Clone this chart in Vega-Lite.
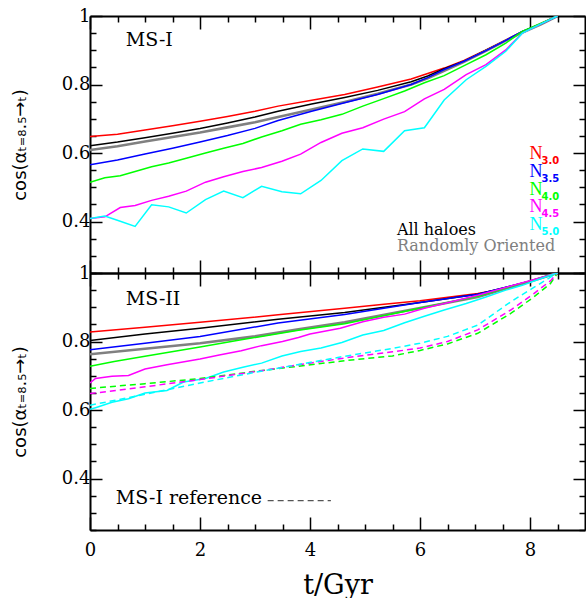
{
  "$schema": "https://vega.github.io/schema/vega-lite/v6.json",
  "padding": {"left": 11, "top": 7, "right": 0, "bottom": 0},
  "config": {
    "view": {"stroke": null},
    "axis": {"domainColor": "#000", "domainWidth": 2, "tickColor": "#000", "tickWidth": 1.5, "labelFont": "DejaVu Serif", "labelFontSize": 18, "labelColor": "#000", "titleFont": "DejaVu Sans", "titleFontWeight": "normal", "titleColor": "#000", "grid": false, "labelOverlap": false, "labelFlush": false},
    "text": {"font": "DejaVu Serif"}
  },
  "datasets": {
    "top": [
      {"s":"N3.0","t":0,"v":0.648},{"s":"N3.0","t":0.5,"v":0.655},{"s":"N3.0","t":1,"v":0.667},{"s":"N3.0","t":1.5,"v":0.68},{"s":"N3.0","t":2,"v":0.693},{"s":"N3.0","t":2.5,"v":0.707},{"s":"N3.0","t":3,"v":0.722},{"s":"N3.0","t":3.42,"v":0.737},{"s":"N3.0","t":4.03,"v":0.754},{"s":"N3.0","t":4.63,"v":0.771},{"s":"N3.0","t":5.23,"v":0.793},{"s":"N3.0","t":5.84,"v":0.816},{"s":"N3.0","t":6.14,"v":0.832},{"s":"N3.0","t":6.44,"v":0.848},{"s":"N3.0","t":6.8,"v":0.87},{"s":"N3.0","t":7.2,"v":0.901},{"s":"N3.0","t":7.56,"v":0.93},{"s":"N3.0","t":7.86,"v":0.954},{"s":"N3.0","t":8.2,"v":0.977},{"s":"N3.0","t":8.5,"v":1},
      {"s":"All","t":0,"v":0.621},{"s":"All","t":0.5,"v":0.632},{"s":"All","t":1,"v":0.645},{"s":"All","t":1.5,"v":0.658},{"s":"All","t":2,"v":0.672},{"s":"All","t":2.5,"v":0.688},{"s":"All","t":3,"v":0.705},{"s":"All","t":3.42,"v":0.722},{"s":"All","t":4.03,"v":0.743},{"s":"All","t":4.63,"v":0.762},{"s":"All","t":5.23,"v":0.783},{"s":"All","t":5.84,"v":0.808},{"s":"All","t":6.14,"v":0.825},{"s":"All","t":6.44,"v":0.846},{"s":"All","t":6.8,"v":0.868},{"s":"All","t":7.2,"v":0.9},{"s":"All","t":7.56,"v":0.929},{"s":"All","t":7.86,"v":0.954},{"s":"All","t":8.2,"v":0.977},{"s":"All","t":8.5,"v":1},
      {"s":"Random","t":0,"v":0.609},{"s":"Random","t":0.5,"v":0.62},{"s":"Random","t":1,"v":0.634},{"s":"Random","t":1.5,"v":0.647},{"s":"Random","t":2,"v":0.66},{"s":"Random","t":2.5,"v":0.675},{"s":"Random","t":3,"v":0.69},{"s":"Random","t":3.42,"v":0.705},{"s":"Random","t":4.03,"v":0.727},{"s":"Random","t":4.63,"v":0.749},{"s":"Random","t":5.23,"v":0.773},{"s":"Random","t":5.84,"v":0.8},{"s":"Random","t":6.14,"v":0.818},{"s":"Random","t":6.44,"v":0.84},{"s":"Random","t":6.8,"v":0.866},{"s":"Random","t":7.2,"v":0.898},{"s":"Random","t":7.56,"v":0.928},{"s":"Random","t":7.86,"v":0.952},{"s":"Random","t":8.2,"v":0.976},{"s":"Random","t":8.5,"v":1},
      {"s":"N3.5","t":0,"v":0.566},{"s":"N3.5","t":0.5,"v":0.58},{"s":"N3.5","t":1,"v":0.597},{"s":"N3.5","t":1.5,"v":0.614},{"s":"N3.5","t":2,"v":0.632},{"s":"N3.5","t":2.5,"v":0.651},{"s":"N3.5","t":3,"v":0.672},{"s":"N3.5","t":3.42,"v":0.695},{"s":"N3.5","t":4.03,"v":0.722},{"s":"N3.5","t":4.63,"v":0.747},{"s":"N3.5","t":5.23,"v":0.771},{"s":"N3.5","t":5.84,"v":0.8},{"s":"N3.5","t":6.14,"v":0.82},{"s":"N3.5","t":6.44,"v":0.844},{"s":"N3.5","t":6.8,"v":0.868},{"s":"N3.5","t":7.2,"v":0.899},{"s":"N3.5","t":7.56,"v":0.929},{"s":"N3.5","t":7.86,"v":0.955},{"s":"N3.5","t":8.2,"v":0.977},{"s":"N3.5","t":8.5,"v":1},
      {"s":"N4.0","t":0,"v":0.515},{"s":"N4.0","t":0.27,"v":0.528},{"s":"N4.0","t":0.55,"v":0.534},{"s":"N4.0","t":0.82,"v":0.546},{"s":"N4.0","t":1.12,"v":0.56},{"s":"N4.0","t":1.43,"v":0.571},{"s":"N4.0","t":1.75,"v":0.585},{"s":"N4.0","t":2.1,"v":0.6},{"s":"N4.0","t":2.43,"v":0.614},{"s":"N4.0","t":2.78,"v":0.628},{"s":"N4.0","t":3.12,"v":0.647},{"s":"N4.0","t":3.49,"v":0.665},{"s":"N4.0","t":3.83,"v":0.684},{"s":"N4.0","t":4.2,"v":0.697},{"s":"N4.0","t":4.58,"v":0.713},{"s":"N4.0","t":4.96,"v":0.737},{"s":"N4.0","t":5.34,"v":0.759},{"s":"N4.0","t":5.72,"v":0.781},{"s":"N4.0","t":6.08,"v":0.805},{"s":"N4.0","t":6.44,"v":0.826},{"s":"N4.0","t":6.84,"v":0.858},{"s":"N4.0","t":7.2,"v":0.887},{"s":"N4.0","t":7.56,"v":0.921},{"s":"N4.0","t":7.86,"v":0.955},{"s":"N4.0","t":8.2,"v":0.979},{"s":"N4.0","t":8.5,"v":1},
      {"s":"N4.5","t":0,"v":0.409},{"s":"N4.5","t":0.27,"v":0.414},{"s":"N4.5","t":0.55,"v":0.441},{"s":"N4.5","t":0.82,"v":0.447},{"s":"N4.5","t":1.12,"v":0.462},{"s":"N4.5","t":1.43,"v":0.474},{"s":"N4.5","t":1.75,"v":0.489},{"s":"N4.5","t":2.1,"v":0.515},{"s":"N4.5","t":2.43,"v":0.531},{"s":"N4.5","t":2.78,"v":0.546},{"s":"N4.5","t":3.12,"v":0.558},{"s":"N4.5","t":3.49,"v":0.576},{"s":"N4.5","t":3.83,"v":0.597},{"s":"N4.5","t":4.2,"v":0.631},{"s":"N4.5","t":4.58,"v":0.658},{"s":"N4.5","t":4.96,"v":0.674},{"s":"N4.5","t":5.34,"v":0.699},{"s":"N4.5","t":5.72,"v":0.721},{"s":"N4.5","t":6.08,"v":0.758},{"s":"N4.5","t":6.44,"v":0.786},{"s":"N4.5","t":6.84,"v":0.829},{"s":"N4.5","t":7.2,"v":0.858},{"s":"N4.5","t":7.56,"v":0.901},{"s":"N4.5","t":7.86,"v":0.95},{"s":"N4.5","t":8.2,"v":0.977},{"s":"N4.5","t":8.5,"v":1},
      {"s":"N5.0","t":0,"v":0.409},{"s":"N5.0","t":0.27,"v":0.416},{"s":"N5.0","t":0.55,"v":0.401},{"s":"N5.0","t":0.82,"v":0.386},{"s":"N5.0","t":1.12,"v":0.449},{"s":"N5.0","t":1.43,"v":0.443},{"s":"N5.0","t":1.75,"v":0.425},{"s":"N5.0","t":2.1,"v":0.464},{"s":"N5.0","t":2.43,"v":0.489},{"s":"N5.0","t":2.78,"v":0.47},{"s":"N5.0","t":3.12,"v":0.503},{"s":"N5.0","t":3.49,"v":0.487},{"s":"N5.0","t":3.83,"v":0.481},{"s":"N5.0","t":4.2,"v":0.52},{"s":"N5.0","t":4.58,"v":0.578},{"s":"N5.0","t":4.96,"v":0.612},{"s":"N5.0","t":5.34,"v":0.605},{"s":"N5.0","t":5.72,"v":0.665},{"s":"N5.0","t":6.08,"v":0.674},{"s":"N5.0","t":6.44,"v":0.755},{"s":"N5.0","t":6.84,"v":0.814},{"s":"N5.0","t":7.2,"v":0.853},{"s":"N5.0","t":7.56,"v":0.897},{"s":"N5.0","t":7.86,"v":0.95},{"s":"N5.0","t":8.2,"v":0.977},{"s":"N5.0","t":8.5,"v":1}
    ],
    "bot": [
      {"s":"N3.0","t":0,"v":0.828},{"s":"N3.0","t":1,"v":0.842},{"s":"N3.0","t":2,"v":0.856},{"s":"N3.0","t":3.42,"v":0.878},{"s":"N3.0","t":4.63,"v":0.897},{"s":"N3.0","t":5.3,"v":0.908},{"s":"N3.0","t":6,"v":0.919},{"s":"N3.0","t":7.05,"v":0.94},{"s":"N3.0","t":7.5,"v":0.953},{"s":"N3.0","t":8,"v":0.975},{"s":"N3.0","t":8.5,"v":1},
      {"s":"All","t":0,"v":0.803},{"s":"All","t":1,"v":0.822},{"s":"All","t":2,"v":0.839},{"s":"All","t":3.42,"v":0.865},{"s":"All","t":4.63,"v":0.885},{"s":"All","t":6,"v":0.914},{"s":"All","t":7.05,"v":0.938},{"s":"All","t":8,"v":0.976},{"s":"All","t":8.5,"v":1},
      {"s":"N3.5","t":0,"v":0.776},{"s":"N3.5","t":1,"v":0.795},{"s":"N3.5","t":2,"v":0.815},{"s":"N3.5","t":3.42,"v":0.854},{"s":"N3.5","t":4.63,"v":0.879},{"s":"N3.5","t":6,"v":0.914},{"s":"N3.5","t":7.05,"v":0.938},{"s":"N3.5","t":8,"v":0.976},{"s":"N3.5","t":8.5,"v":1},
      {"s":"Random","t":0,"v":0.763},{"s":"Random","t":1,"v":0.779},{"s":"Random","t":2,"v":0.795},{"s":"Random","t":3,"v":0.815},{"s":"Random","t":3.79,"v":0.836},{"s":"Random","t":4.63,"v":0.856},{"s":"Random","t":6,"v":0.898},{"s":"Random","t":7.05,"v":0.93},{"s":"Random","t":8,"v":0.975},{"s":"Random","t":8.5,"v":1},
      {"s":"N4.0","t":0,"v":0.728},{"s":"N4.0","t":0.44,"v":0.742},{"s":"N4.0","t":1,"v":0.757},{"s":"N4.0","t":2,"v":0.784},{"s":"N4.0","t":2.75,"v":0.805},{"s":"N4.0","t":3.79,"v":0.833},{"s":"N4.0","t":4.63,"v":0.852},{"s":"N4.0","t":6,"v":0.897},{"s":"N4.0","t":7.05,"v":0.932},{"s":"N4.0","t":8,"v":0.977},{"s":"N4.0","t":8.5,"v":1},
      {"s":"N4.5","t":0,"v":0.679},{"s":"N4.5","t":0.1,"v":0.692},{"s":"N4.5","t":0.4,"v":0.699},{"s":"N4.5","t":0.7,"v":0.701},{"s":"N4.5","t":1,"v":0.72},{"s":"N4.5","t":1.4,"v":0.732},{"s":"N4.5","t":2,"v":0.749},{"s":"N4.5","t":2.35,"v":0.761},{"s":"N4.5","t":2.75,"v":0.773},{"s":"N4.5","t":3.12,"v":0.788},{"s":"N4.5","t":3.5,"v":0.8},{"s":"N4.5","t":3.79,"v":0.812},{"s":"N4.5","t":4,"v":0.822},{"s":"N4.5","t":4.55,"v":0.839},{"s":"N4.5","t":4.96,"v":0.858},{"s":"N4.5","t":5.34,"v":0.871},{"s":"N4.5","t":5.72,"v":0.88},{"s":"N4.5","t":6.08,"v":0.897},{"s":"N4.5","t":6.44,"v":0.911},{"s":"N4.5","t":7.05,"v":0.935},{"s":"N4.5","t":7.65,"v":0.962},{"s":"N4.5","t":8.5,"v":1},
      {"s":"N5.0","t":0,"v":0.602},{"s":"N5.0","t":0.1,"v":0.607},{"s":"N5.0","t":0.4,"v":0.623},{"s":"N5.0","t":0.7,"v":0.633},{"s":"N5.0","t":1,"v":0.65},{"s":"N5.0","t":1.4,"v":0.657},{"s":"N5.0","t":1.7,"v":0.682},{"s":"N5.0","t":2.1,"v":0.692},{"s":"N5.0","t":2.43,"v":0.711},{"s":"N5.0","t":2.78,"v":0.725},{"s":"N5.0","t":3.12,"v":0.737},{"s":"N5.0","t":3.49,"v":0.758},{"s":"N5.0","t":3.83,"v":0.771},{"s":"N5.0","t":4.2,"v":0.781},{"s":"N5.0","t":4.58,"v":0.797},{"s":"N5.0","t":4.96,"v":0.819},{"s":"N5.0","t":5.34,"v":0.832},{"s":"N5.0","t":5.72,"v":0.855},{"s":"N5.0","t":6.08,"v":0.874},{"s":"N5.0","t":6.44,"v":0.892},{"s":"N5.0","t":6.84,"v":0.911},{"s":"N5.0","t":7.2,"v":0.93},{"s":"N5.0","t":7.56,"v":0.95},{"s":"N5.0","t":7.86,"v":0.964},{"s":"N5.0","t":8.2,"v":0.984},{"s":"N5.0","t":8.5,"v":1}
    ],
    "botref": [
      {"s":"N4.0","t":0,"v":0.663},{"s":"N4.0","t":1,"v":0.677},{"s":"N4.0","t":2,"v":0.692},{"s":"N4.0","t":3,"v":0.713},{"s":"N4.0","t":3.79,"v":0.728},{"s":"N4.0","t":4.63,"v":0.744},{"s":"N4.0","t":5.5,"v":0.758},{"s":"N4.0","t":6,"v":0.774},{"s":"N4.0","t":6.5,"v":0.793},{"s":"N4.0","t":7.05,"v":0.824},{"s":"N4.0","t":7.65,"v":0.882},{"s":"N4.0","t":8.07,"v":0.93},{"s":"N4.0","t":8.37,"v":0.969},{"s":"N4.0","t":8.5,"v":1},
      {"s":"N4.5","t":0,"v":0.648},{"s":"N4.5","t":1,"v":0.668},{"s":"N4.5","t":2,"v":0.689},{"s":"N4.5","t":3,"v":0.712},{"s":"N4.5","t":3.79,"v":0.732},{"s":"N4.5","t":4.63,"v":0.752},{"s":"N4.5","t":5.5,"v":0.77},{"s":"N4.5","t":6,"v":0.781},{"s":"N4.5","t":6.5,"v":0.8},{"s":"N4.5","t":7.05,"v":0.834},{"s":"N4.5","t":7.65,"v":0.892},{"s":"N4.5","t":8.07,"v":0.94},{"s":"N4.5","t":8.37,"v":0.977},{"s":"N4.5","t":8.5,"v":1},
      {"s":"N5.0","t":0,"v":0.614},{"s":"N5.0","t":0.5,"v":0.63},{"s":"N5.0","t":1,"v":0.646},{"s":"N5.0","t":2,"v":0.679},{"s":"N5.0","t":3,"v":0.71},{"s":"N5.0","t":3.79,"v":0.733},{"s":"N5.0","t":4.63,"v":0.757},{"s":"N5.0","t":5.5,"v":0.78},{"s":"N5.0","t":6,"v":0.795},{"s":"N5.0","t":6.5,"v":0.815},{"s":"N5.0","t":7.05,"v":0.848},{"s":"N5.0","t":7.65,"v":0.916},{"s":"N5.0","t":8.07,"v":0.958},{"s":"N5.0","t":8.5,"v":1}
    ],
    "leg": [
      {"s":"N3.0","t":7.99,"v":0.583,"sub":"3.0"},
      {"s":"N3.5","t":7.99,"v":0.531,"sub":"3.5"},
      {"s":"N4.0","t":7.99,"v":0.479,"sub":"4.0"},
      {"s":"N4.5","t":7.99,"v":0.427,"sub":"4.5"},
      {"s":"N5.0","t":7.99,"v":0.375,"sub":"5.0"}
    ],
    "leg2": [
      {"s":"All","t":5.58,"v":0.36,"label":"All haloes"},
      {"s":"Random","t":5.58,"v":0.315,"label":"Randomly Oriented"}
    ],
    "dashkey": [
      {"t":3.23,"v":0.336},{"t":4.38,"v":0.336}
    ]
  },
  "spacing": 0,
  "bounds": "flush",
  "vconcat": [
    {
      "width": 495, "height": 257,
      "resolve": {"axis": {"x": "independent", "y": "independent"}},
      "layer": [
        {
          "data": {"name": "top"},
          "mark": {"type": "line", "clip": true},
          "encoding": {
            "x": {"field": "t", "type": "quantitative", "scale": {"domain": [0, 9], "nice": false, "zero": false},
              "axis": {"orient": "bottom", "values": [0,0.5,1,1.5,2,2.5,3,3.5,4,4.5,5,5.5,6,6.5,7,7.5,8,8.5], "labels": false, "title": null,
                "tickSize": {"condition": {"test": "datum.value % 2 == 0", "value": -13}, "value": -6}}},
            "y": {"field": "v", "type": "quantitative", "scale": {"domain": [0.25, 1], "nice": false, "zero": false},
              "axis": {"orient": "left", "values": [0.25,0.3,0.35,0.4,0.45,0.5,0.55,0.6,0.65,0.7,0.75,0.8,0.85,0.9,0.95,1],
                "tickSize": {"condition": {"test": "abs(datum.value*5-round(datum.value*5))<0.001", "value": -12}, "value": -6},
                "labelExpr": "abs(datum.value*5-round(datum.value*5))<0.001 && datum.value>0.3 ? (datum.value>0.99 ? '1' : format(datum.value,'.1f')) : ''",
                "labelPadding": 12, "title": "cos(αₜ₌₈.₅→ₜ)", "titleFontSize": 18, "titlePadding": 32}},
            "color": {"field": "s", "type": "nominal", "scale": {"domain": ["N3.0","N3.5","N4.0","N4.5","N5.0","All","Random"], "range": ["#ff0000","#0000ff","#00ff00","#ff00ff","#00ffff","#000000","#808080"]}, "legend": null},
            "strokeWidth": {"condition": {"test": "datum.s === 'Random'", "value": 2.6}, "value": 1.5}
          }
        },
        {
          "data": {"values": [{"t": 0.65, "v": 0.911, "label": "MS-I"}]},
          "mark": {"type": "text", "align": "left", "baseline": "alphabetic", "fontSize": 19, "color": "#000"},
          "encoding": {
            "x": {"field": "t", "type": "quantitative", "scale": {"domain": [0, 9], "nice": false, "zero": false},
              "axis": {"orient": "top", "values": [0,0.5,1,1.5,2,2.5,3,3.5,4,4.5,5,5.5,6,6.5,7,7.5,8,8.5], "labels": false, "title": null,
                "tickSize": {"condition": {"test": "datum.value % 2 == 0", "value": -13}, "value": -6}}},
            "y": {"field": "v", "type": "quantitative", "scale": {"domain": [0.25, 1], "nice": false, "zero": false},
              "axis": {"orient": "right", "values": [0.25,0.3,0.35,0.4,0.45,0.5,0.55,0.6,0.65,0.7,0.75,0.8,0.85,0.9,0.95,1], "labels": false, "title": null,
                "tickSize": {"condition": {"test": "abs(datum.value*5-round(datum.value*5))<0.001", "value": -12}, "value": -6}}},
            "text": {"field": "label"}
          }
        },
        {
          "data": {"name": "leg"},
          "mark": {"type": "text", "align": "left", "baseline": "alphabetic", "fontSize": 18, "font": "Liberation Serif"},
          "encoding": {
            "x": {"field": "t", "type": "quantitative", "axis": null},
            "y": {"field": "v", "type": "quantitative", "axis": null},
            "color": {"field": "s", "type": "nominal", "legend": null},
            "text": {"value": "N"}
          }
        },
        {
          "data": {"name": "leg"},
          "mark": {"type": "text", "align": "left", "baseline": "alphabetic", "fontSize": 10, "font": "DejaVu Sans", "fontWeight": "bold", "dx": 12, "dy": 5},
          "encoding": {
            "x": {"field": "t", "type": "quantitative", "axis": null},
            "y": {"field": "v", "type": "quantitative", "axis": null},
            "color": {"field": "s", "type": "nominal", "legend": null},
            "text": {"field": "sub"}
          }
        },
        {
          "data": {"name": "leg2"},
          "mark": {"type": "text", "align": "left", "baseline": "alphabetic", "fontSize": 16},
          "encoding": {
            "x": {"field": "t", "type": "quantitative", "axis": null},
            "y": {"field": "v", "type": "quantitative", "axis": null},
            "color": {"field": "s", "type": "nominal", "legend": null},
            "text": {"field": "label"}
          }
        }
      ]
    },
    {
      "width": 495, "height": 257,
      "resolve": {"axis": {"x": "independent", "y": "independent"}},
      "layer": [
        {
          "data": {"name": "bot"},
          "mark": {"type": "line", "clip": true},
          "encoding": {
            "x": {"field": "t", "type": "quantitative", "scale": {"domain": [0, 9], "nice": false, "zero": false},
              "axis": {"orient": "bottom", "values": [0,0.5,1,1.5,2,2.5,3,3.5,4,4.5,5,5.5,6,6.5,7,7.5,8,8.5],
                "labelExpr": "datum.value % 2 == 0 ? format(datum.value, 'd') : ''", "labelPadding": 24,
                "tickSize": {"condition": {"test": "datum.value % 2 == 0", "value": -13}, "value": -6},
                "title": "t/Gyr", "titleFont": "DejaVu Serif", "titleFontSize": 27, "titlePadding": 6}},
            "y": {"field": "v", "type": "quantitative", "scale": {"domain": [0.25, 1], "nice": false, "zero": false},
              "axis": {"orient": "left", "values": [0.25,0.3,0.35,0.4,0.45,0.5,0.55,0.6,0.65,0.7,0.75,0.8,0.85,0.9,0.95,1],
                "tickSize": {"condition": {"test": "abs(datum.value*5-round(datum.value*5))<0.001", "value": -12}, "value": -6},
                "labelExpr": "abs(datum.value*5-round(datum.value*5))<0.001 && datum.value>0.3 ? (datum.value>0.99 ? '1' : format(datum.value,'.1f')) : ''",
                "labelPadding": 12, "title": "cos(αₜ₌₈.₅→ₜ)", "titleFontSize": 18, "titlePadding": 32}},
            "color": {"field": "s", "type": "nominal", "scale": {"domain": ["N3.0","N3.5","N4.0","N4.5","N5.0","All","Random"], "range": ["#ff0000","#0000ff","#00ff00","#ff00ff","#00ffff","#000000","#808080"]}, "legend": null},
            "strokeWidth": {"condition": {"test": "datum.s === 'Random'", "value": 2.6}, "value": 1.5}
          }
        },
        {
          "data": {"name": "botref"},
          "mark": {"type": "line", "clip": true, "strokeDash": [6, 4], "strokeWidth": 1.5},
          "encoding": {
            "x": {"field": "t", "type": "quantitative", "axis": null},
            "y": {"field": "v", "type": "quantitative", "axis": null},
            "color": {"field": "s", "type": "nominal", "legend": null}
          }
        },
        {
          "data": {"name": "dashkey"},
          "mark": {"type": "line", "strokeDash": [6, 4], "strokeWidth": 1.2, "color": "#555555"},
          "encoding": {
            "x": {"field": "t", "type": "quantitative", "axis": null},
            "y": {"field": "v", "type": "quantitative", "axis": null}
          }
        },
        {
          "data": {"values": [{"t": 0.47, "v": 0.327, "label": "MS-I reference"}]},
          "mark": {"type": "text", "align": "left", "baseline": "alphabetic", "fontSize": 19, "color": "#000"},
          "encoding": {
            "x": {"field": "t", "type": "quantitative", "axis": null},
            "y": {"field": "v", "type": "quantitative", "axis": null},
            "text": {"field": "label"}
          }
        },
        {
          "data": {"values": [{"t": 0.65, "v": 0.906, "label": "MS-II"}]},
          "mark": {"type": "text", "align": "left", "baseline": "alphabetic", "fontSize": 19, "color": "#000"},
          "encoding": {
            "x": {"field": "t", "type": "quantitative", "scale": {"domain": [0, 9], "nice": false, "zero": false},
              "axis": {"orient": "top", "values": [0,0.5,1,1.5,2,2.5,3,3.5,4,4.5,5,5.5,6,6.5,7,7.5,8,8.5], "labels": false, "title": null,
                "tickSize": {"condition": {"test": "datum.value % 2 == 0", "value": -13}, "value": -6}}},
            "y": {"field": "v", "type": "quantitative", "scale": {"domain": [0.25, 1], "nice": false, "zero": false},
              "axis": {"orient": "right", "values": [0.25,0.3,0.35,0.4,0.45,0.5,0.55,0.6,0.65,0.7,0.75,0.8,0.85,0.9,0.95,1], "labels": false, "title": null,
                "tickSize": {"condition": {"test": "abs(datum.value*5-round(datum.value*5))<0.001", "value": -12}, "value": -6}}},
            "text": {"field": "label"}
          }
        }
      ]
    }
  ]
}
